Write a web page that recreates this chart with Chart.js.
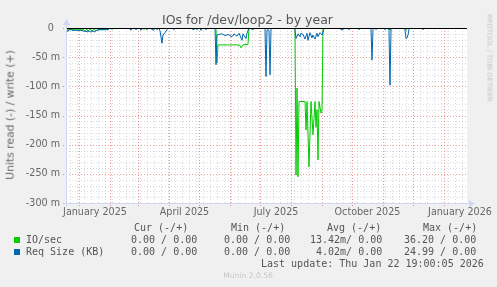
<!DOCTYPE html>
<html><head><meta charset="utf-8">
<script src="https://cdn.jsdelivr.net/npm/chart.js@4/dist/chart.umd.min.js"></script>
<style>
html,body{margin:0;padding:0;background:#f0f0f0;}
body{width:497px;height:287px;overflow:hidden;position:relative;font-family:"DejaVu Sans",sans-serif;color:#666;}
#c{position:absolute;left:0;top:0;}
.t{position:absolute;white-space:pre;line-height:1;}
.m{font-family:"DejaVu Sans Mono",monospace;font-size:10px;line-height:10px;color:#555;}
.sq{position:absolute;width:6px;height:6px;}
</style></head><body>
<canvas id="c" width="497" height="287"></canvas>
<div class="t" style="left:0;width:495px;text-align:center;top:14.4px;font-size:12.5px;line-height:12.5px;color:#555;">IOs for /dev/loop2 - by year</div>
<div class="t" style="left:11px;top:115px;font-size:10.8px;transform:translate(-50%,-50%) rotate(-90deg);color:#666;">Units read (-) / write (+)</div>
<div class="t" style="left:489px;top:58px;font-size:6.8px;transform:translate(-50%,-50%) rotate(90deg);color:#c4c4c4;">RRDTOOL / TOBI OETIKER</div>
<div class="t m" style="left:134px;top:223px;">Cur (-/+)</div>
<div class="t m" style="left:231px;top:223px;">Min (-/+)</div>
<div class="t m" style="left:327px;top:223px;">Avg (-/+)</div>
<div class="t m" style="left:423px;top:223px;">Max (-/+)</div>
<div class="sq" style="left:14px;top:237px;background:#00cc00;"></div>
<div class="t m" style="left:26px;top:235px;">IO/sec</div>
<div class="t m" style="left:131px;top:235px;">0.00 / 0.00</div>
<div class="t m" style="left:224px;top:235px;">0.00 / 0.00</div>
<div class="t m" style="left:310px;top:235px;">13.42m/ 0.00</div>
<div class="t m" style="left:404px;top:235px;">36.20 / 0.00</div>
<div class="sq" style="left:14px;top:249px;background:#0066b3;"></div>
<div class="t m" style="left:26px;top:247px;">Req Size (KB)</div>
<div class="t m" style="left:131px;top:247px;">0.00 / 0.00</div>
<div class="t m" style="left:224px;top:247px;">0.00 / 0.00</div>
<div class="t m" style="left:316px;top:247px;">4.02m/ 0.00</div>
<div class="t m" style="left:404px;top:247px;">24.99 / 0.00</div>
<div class="t m" style="left:261px;top:259px;">Last update: Thu Jan 22 19:00:05 2026</div>
<div class="t" style="left:0;width:496px;text-align:center;top:272.4px;font-size:7.6px;color:#c8c8c8;">Munin 2.0.56</div>
<script>
// x values are days counted from 1 January 2025
const xMinDay = -13, xMaxDay = 388;
const monthStartDays = [0,31,59,90,120,151,181,212,243,273,304,334,365];
const xTickDays = [16,105.5,197,288.5,381];
const xTickLabels = ['January 2025','April 2025','July 2025','October 2025','January 2026'];
const yTickValues = [0,-50,-100,-150,-200,-250,-300];
const yTickLabels = ['0  ','-50 m','-100 m','-150 m','-200 m','-250 m','-300 m'];

// IO/sec (read, milli-units)
const ioDays = [-13,-12,-7,-6,-4,5,6,8,9,11,13,15,17,18,28,31,
  32,33,34,64,65,66,72,73,74,114,115,116,
  137,138,139,159,161,162,164,169,170,172,173,174,
  216,217,218,219,220,226,227,228,230,232,234,236,237,238,239,240,242,243,244,
  310,311,312,326,327,328,388];
const ioVals = [0,-3,-3,-2,-3,-3,-5,-2,-6,-2,-5,-2,-5,-3,-2,0,
  0,-3,0,0,-3,0,0,-3,0,0,-3,0,
  0,-60,-29,-29,-30,-34,-29,-28,0,0,-3,0,
  0,-252,-103,-255,-126,-126,-175,-126,-238,-126,-183,-126,-170,-140,-226,-126,-146,-142,0,
  0,-4,0,0,-4,0,0];

// Req Size (KB) (read, milli-units)
const reqDays = [-13,-12,-11,-10,-8,-7,2,4,6,7,8,10,11,12,14,15,17,18,20,28,30,31,
  50,52,53,56,57,58,61,62,63,67,68,69,73,74,75,76,77,78,79,
  80,81,83,84,86,88,89,94,95,96,113,114,115,117,118,119,121,122,123,126,127,128,
  136,137,138,140,143,146,149,153,155,158,160,163,164,167,168,170,173,174,175,
  185,186,187,188,190,191,192,193,
  215,216,217,219,221,222,224,226,228,229,231,233,234,236,238,239,241,243,244,245,
  261,262,264,265,269,270,271,279,280,281,
  291,292,293,294,295,296,297,298,305,306,307,
  309,310,311,312,313,325,326,327,328,329,330,331,343,344,345,388];
const reqVals = [-1,-5,-6,-3,-2,-4,-4,-5,-6,-5,-7,-5,-6,-7,-5,-7,-5,-4,-3,-3,-2,0,
  0,-4,0,0,-3,0,0,-4,0,0,-3,0,0,-4,-3,0,0,-3,0,
  0,-5,-26,-12,-8,-3,0,0,-3,0,0,-3,0,0,-3,0,0,-4,0,0,-3,0,
  0,-63,-12,-11,-10,-13,-11,-15,-10,-14,-9,-21,-10,-18,-9,0,0,-3,0,
  0,-2,-83,-3,-4,-80,-2,0,
  0,-4,-18,-10,-15,-9,-11,-19,-9,-21,-8,-17,-12,-19,-9,-15,-8,-12,-7,0,
  0,-3,-3,0,0,-3,0,0,-3,0,
  0,-3,-55,-2,0,0,-3,0,0,-3,0,
  0,-4,-98,-3,0,0,-3,-18,-17,-12,-2,0,0,-3,0,0];

const toPts = (d, v) => d.map((x, i) => ({x: x, y: v[i]}));

const rrdPlugin = {
  id: 'rrd',
  beforeDatasetsDraw(chart) {
    const {ctx, chartArea: a, scales: {x, y}} = chart;
    ctx.save();
    ctx.fillStyle = '#ffffff';
    ctx.fillRect(a.left, a.top, a.right - a.left, a.bottom - a.top);
    ctx.lineWidth = 1;
    ctx.setLineDash([1, 2]);
    ctx.strokeStyle = 'rgba(150,150,150,0.35)';
    ctx.beginPath();
    for (let v = -10; v > -300; v -= 10) {
      if (v % 50 === 0) continue;
      const py = Math.round(y.getPixelForValue(v)) + 0.5;
      ctx.moveTo(a.left, py); ctx.lineTo(a.right, py);
    }
    for (let d = -9; d <= xMaxDay; d += 7) {
      if (monthStartDays.includes(d)) continue;
      const px = Math.round(x.getPixelForValue(d)) + 0.5;
      ctx.moveTo(px, a.top); ctx.lineTo(px, a.bottom);
    }
    ctx.stroke();
    ctx.strokeStyle = 'rgba(224,80,80,0.6)';
    ctx.beginPath();
    yTickValues.forEach(v => {
      const py = Math.round(y.getPixelForValue(v)) + 0.5;
      ctx.moveTo(a.left - 3, py); ctx.lineTo(a.right, py);
    });
    monthStartDays.forEach(d => {
      const px = Math.round(x.getPixelForValue(d)) + 0.5;
      ctx.moveTo(px, a.top); ctx.lineTo(px, a.bottom + 3);
    });
    ctx.stroke();
    ctx.restore();
  },
  afterDatasetsDraw(chart) {
    const {ctx, chartArea: a, scales: {x, y}} = chart;
    ctx.save();
    ctx.lineWidth = 1;
    const y0 = Math.round(y.getPixelForValue(0)) + 0.5;
    ctx.strokeStyle = '#000000';
    ctx.beginPath(); ctx.moveTo(a.left, y0); ctx.lineTo(a.right, y0); ctx.stroke();
    const ax = Math.round(x.getPixelForValue(xMinDay)) + 0.5;
    const ay = Math.round(y.getPixelForValue(-300)) + 0.5;
    ctx.strokeStyle = '#cfd6f8';
    ctx.beginPath();
    ctx.moveTo(ax, ay + 3); ctx.lineTo(ax, a.top - 5);
    ctx.moveTo(ax - 3, ay); ctx.lineTo(a.right + 3, ay);
    ctx.stroke();
    ctx.fillStyle = '#cfd6f8';
    ctx.beginPath();
    ctx.moveTo(ax - 3.5, a.top - 3); ctx.lineTo(ax + 3.5, a.top - 3); ctx.lineTo(ax, a.top - 9); ctx.closePath(); ctx.fill();
    ctx.beginPath();
    ctx.moveTo(a.right + 2, ay - 3.5); ctx.lineTo(a.right + 2, ay + 3.5); ctx.lineTo(a.right + 8, ay); ctx.closePath(); ctx.fill();
    ctx.restore();
  }
};

new Chart(document.getElementById('c'), {
  type: 'line',
  data: {
    datasets: [
      {label: 'Req Size (KB)', data: toPts(reqDays, reqVals), borderColor: '#0066b3', borderWidth: 1, pointRadius: 0, fill: false, tension: 0, order: 0},
      {label: 'IO/sec', data: toPts(ioDays, ioVals), borderColor: '#00cc00', borderWidth: 1, pointRadius: 0, fill: false, tension: 0, order: 1}
    ]
  },
  options: {
    responsive: false,
    animation: false,
    devicePixelRatio: 1,
    layout: {padding: {left: 0, right: 30, top: 28, bottom: 0}},
    plugins: {legend: {display: false}, tooltip: {enabled: false}, title: {display: false}},
    events: [],
    scales: {
      x: {
        type: 'linear', min: xMinDay, max: xMaxDay,
        grid: {display: false, drawTicks: false}, border: {display: false},
        afterFit: s => { s.height = 84; },
        afterBuildTicks: s => { s.ticks = xTickDays.map(v => ({value: v})); },
        ticks: {autoSkip: false, maxRotation: 0, padding: 4, color: '#666', font: {family: 'DejaVu Sans', size: 9.6},
          callback: (v, i) => xTickLabels[i]}
      },
      y: {
        type: 'linear', min: -300, max: 0,
        grid: {display: false, drawTicks: false}, border: {display: false},
        afterFit: s => { s.width = 66; },
        afterBuildTicks: s => { s.ticks = yTickValues.map(v => ({value: v})); },
        ticks: {autoSkip: false, padding: 6, color: '#666', font: {family: 'DejaVu Sans', size: 9.6},
          callback: (v, i) => yTickLabels[i]}
      }
    }
  },
  plugins: [rrdPlugin]
});
</script>
</body></html>
